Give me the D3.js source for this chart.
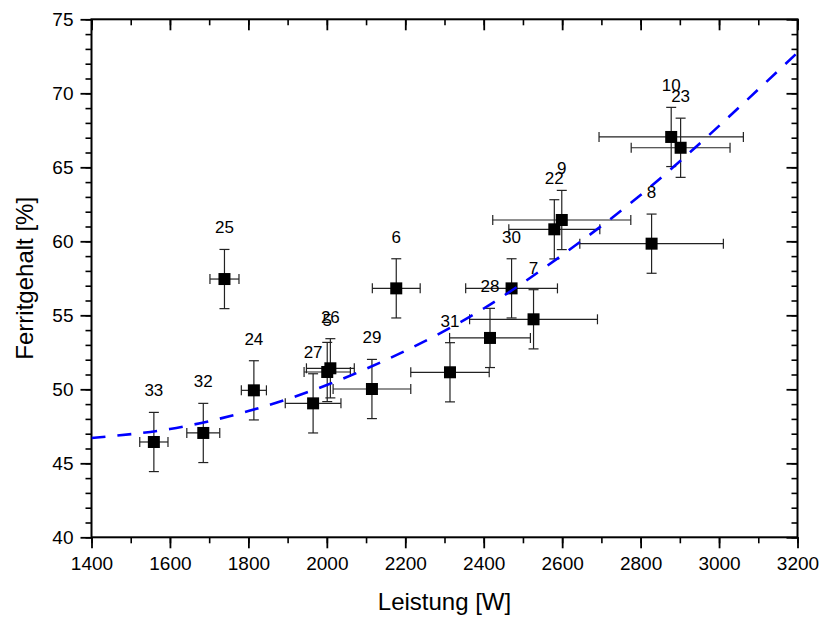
<!DOCTYPE html>
<html><head><meta charset="utf-8">
<script src="https://cdn.jsdelivr.net/npm/d3@7"></script>
<style>body{margin:0;background:#fff}text{font-family:"Liberation Sans",Arial,sans-serif}</style>
</head><body>
<svg id="c" width="821" height="619"></svg>
<script>
// ---- data ----
const labels     = ["33","32","24","25","27","5","26","29","6","31","28","30","7","22","9","8","10","23"];
const power      = [1559,1685,1814,1739,1965,2001,2009,2115,2177,2314,2416,2471,2527,2580,2599,2828,2878,2902];
const ferrite    = [46.44,47.05,49.93,57.45,49.05,51.17,51.42,50.02,56.82,51.15,53.47,56.82,54.73,60.81,61.44,59.84,67.05,66.32];
const powerErr   = [36,42,32,37,71,59,61,99,61,100,103,117,163,116,176,183,184,126];
const ferriteErr = [2,2,2,2,2,2,2,2,2,2,2,2,2,2,2,2,2,2];
const fitPower   = [1400,1600,1800,2000,2200,2400,2600,2800,3000,3200];
const fitFerrite = [46.71,47.32,48.53,50.29,52.6,55.46,59.07,63.13,67.8,72.75];
const xTicks = [1400,1600,1800,2000,2200,2400,2600,2800,3000,3200];
const yTicks = [40,45,50,55,60,65,70,75];
const xTitle = "Leistung [W]";
const yTitle = "Ferritgehalt [%]";

const svg = d3.select("#c");
const L = 91.5, R = 797.5, T = 19.3, B = 537.3;
const x = d3.scaleLinear().domain([1400,3200]).range([L,R]);
const y = d3.scaleLinear().domain([40,75]).range([B,T]);

const xMinor = d3.range(1400,3201,100);
const yMinor = d3.range(40,75.1,1);

function styleAxis(g, w){
  g.select(".domain").remove();
  g.selectAll(".tick line").attr("stroke","#000").attr("stroke-width",w);
  g.selectAll("text").attr("fill","#000").style("font-family",'"Liberation Sans",Arial,sans-serif');
}
// minor ticks
svg.append("g").attr("transform",`translate(0,${B})`)
  .call(d3.axisBottom(x).tickValues(xMinor).tickSize(6).tickFormat(""))
  .call(g=>styleAxis(g,1.6));
svg.append("g").attr("transform",`translate(0,${T})`)
  .call(d3.axisTop(x).tickValues(xMinor).tickSize(-6).tickFormat(""))
  .call(g=>styleAxis(g,1.6));
svg.append("g").attr("transform",`translate(${L},0)`)
  .call(d3.axisLeft(y).tickValues(yMinor).tickSize(6).tickFormat(""))
  .call(g=>styleAxis(g,1.6));
svg.append("g").attr("transform",`translate(${R},0)`)
  .call(d3.axisRight(y).tickValues(yMinor).tickSize(-6).tickFormat(""))
  .call(g=>styleAxis(g,1.6));
// major ticks
svg.append("g").attr("transform",`translate(0,${B})`)
  .call(d3.axisBottom(x).tickValues(xTicks).tickSize(11).tickPadding(8).tickFormat(d3.format("d")))
  .call(g=>{styleAxis(g,1.8); g.selectAll("text").style("font-size","19px");});
svg.append("g").attr("transform",`translate(0,${T})`)
  .call(d3.axisTop(x).tickValues(xTicks).tickSize(-11).tickFormat(""))
  .call(g=>styleAxis(g,1.8));
svg.append("g").attr("transform",`translate(${L},0)`)
  .call(d3.axisLeft(y).tickValues(yTicks).tickSize(11).tickPadding(7).tickFormat(d3.format("d")))
  .call(g=>{styleAxis(g,1.8); g.selectAll("text").style("font-size","19px");});
svg.append("g").attr("transform",`translate(${R},0)`)
  .call(d3.axisRight(y).tickValues(yTicks).tickSize(-11).tickFormat(""))
  .call(g=>styleAxis(g,1.8));
// frame
svg.append("rect").attr("x",L).attr("y",T).attr("width",R-L).attr("height",B-T)
  .attr("fill","none").attr("stroke","#000").attr("stroke-width",2);

// axis titles
svg.append("text").attr("x",(L+R)/2).attr("y",610).attr("text-anchor","middle")
  .style("font-size","24px").text(xTitle);
svg.append("text").attr("transform",`translate(33,${(T+B)/2}) rotate(-90)`).attr("text-anchor","middle")
  .style("font-size","24px").text(yTitle);

const data = labels.map((l,i)=>({l, x:power[i], y:ferrite[i], ex:powerErr[i], ey:ferriteErr[i]}));
const cap = 5;
const eb = svg.append("g").attr("stroke","#222").attr("stroke-width",1.2).attr("fill","none");
data.forEach(d=>{
  const cx = x(d.x), cy = y(d.y);
  const x0 = x(d.x-d.ex), x1 = x(d.x+d.ex), y0 = y(d.y+d.ey), y1 = y(d.y-d.ey);
  eb.append("line").attr("x1",x0).attr("x2",x1).attr("y1",cy).attr("y2",cy);
  eb.append("line").attr("x1",x0).attr("x2",x0).attr("y1",cy-cap).attr("y2",cy+cap);
  eb.append("line").attr("x1",x1).attr("x2",x1).attr("y1",cy-cap).attr("y2",cy+cap);
  eb.append("line").attr("x1",cx).attr("x2",cx).attr("y1",y0).attr("y2",y1);
  eb.append("line").attr("x1",cx-cap).attr("x2",cx+cap).attr("y1",y0).attr("y2",y0);
  eb.append("line").attr("x1",cx-cap).attr("x2",cx+cap).attr("y1",y1).attr("y2",y1);
});
svg.append("g").selectAll("rect").data(data).join("rect")
  .attr("x",d=>x(d.x)-6).attr("y",d=>y(d.y)-6).attr("width",12).attr("height",12).attr("fill","#000");

// fit curve
svg.append("clipPath").attr("id","clip").append("rect").attr("x",L).attr("y",T).attr("width",R-L).attr("height",B-T);
const line = d3.line().x((d,i)=>x(fitPower[i])).y(d=>y(d)).curve(d3.curveNatural);
svg.append("path").attr("d",line(fitFerrite)).attr("clip-path","url(#clip)")
  .attr("fill","none").attr("stroke","#0000ff").attr("stroke-width",2.6).attr("stroke-dasharray","14,12");

// point labels
svg.append("g").selectAll("text").data(data).join("text")
  .attr("x",d=>x(d.x)).attr("y",d=>y(d.y+d.ey)-16).attr("text-anchor","middle")
  .style("font-size","17px").attr("fill","#000").text(d=>d.l);
</script>
</body></html>
